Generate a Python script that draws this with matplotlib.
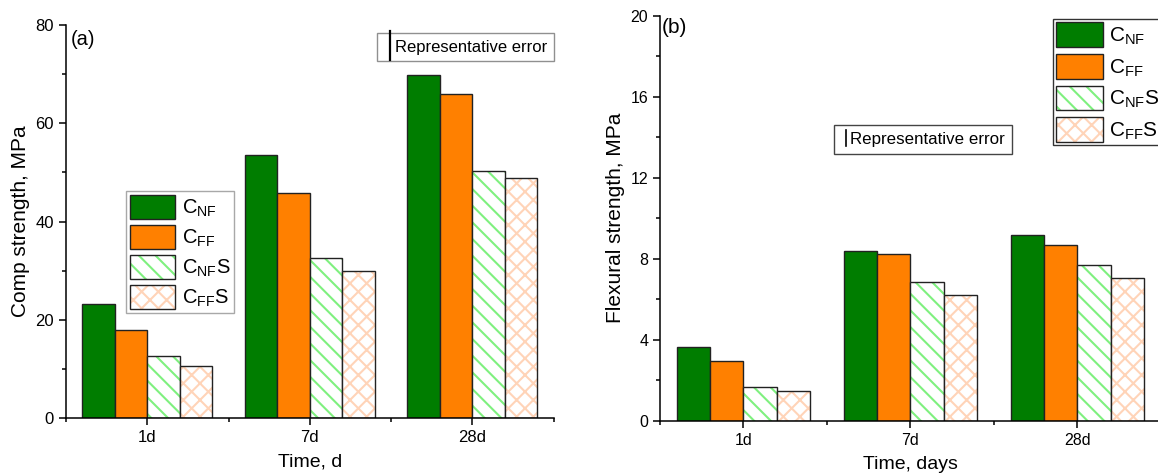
import numpy as np
import matplotlib
matplotlib.use('Agg')
import matplotlib.pyplot as plt
from matplotlib.ticker import AutoMinorLocator, FixedLocator
from matplotlib.legend_handler import HandlerBase, HandlerTuple
from matplotlib.lines import Line2D

plt.rcParams['font.family'] = ['Liberation Sans', 'DejaVu Sans']
plt.rcParams['mathtext.default'] = 'regular'
plt.rcParams['hatch.linewidth'] = 1.5

# data to plot
times = ['1d', '7d', '28d']
labels = ['C$_{NF}$', 'C$_{FF}$', 'C$_{NF}$S', 'C$_{FF}$S']

comp_CNF = [23.2, 53.6, 69.9]
comp_CFF = [18.0, 45.8, 65.9]
comp_CNFS = [12.7, 32.6, 50.2]
comp_CFFS = [10.6, 30.0, 48.8]

flex_CNF = [3.65, 8.40, 9.15]
flex_CFF = [2.96, 8.21, 8.69]
flex_CNFS = [1.66, 6.83, 7.67]
flex_CFFS = [1.48, 6.22, 7.03]

green = '#007d00'
orange = '#ff8000'
light_green = '#7ff07f'
peach = '#ffd4b8'
edge = '#222222'


class VBar(HandlerBase):
    # vertical line used as the "representative error" legend key
    def __init__(self, frac, lw):
        super().__init__()
        self.frac = frac
        self.lw = lw

    def create_artists(self, legend, orig_handle, xdescent, ydescent,
                       width, height, fontsize, trans):
        x = width - xdescent
        yc = height / 2 - ydescent
        h = self.frac * height / 2
        return [Line2D([x, x], [yc - h, yc + h], color='k', lw=self.lw,
                       transform=trans)]


def draw_panel(ax, series, ymax, ystep, ylabel, xlabel):
    index = np.arange(len(times))
    bar_width = 0.2
    handles = []
    for j, vals in enumerate(series):
        x = index + (j - 1.5) * bar_width
        if j == 0:
            b = ax.bar(x, vals, bar_width, color=green, edgecolor=edge, linewidth=1)
            handles.append(b[0])
        elif j == 1:
            b = ax.bar(x, vals, bar_width, color=orange, edgecolor=edge, linewidth=1)
            handles.append(b[0])
        else:
            hc = light_green if j == 2 else peach
            hp = '\\\\' if j == 2 else 'xx'
            b1 = ax.bar(x, vals, bar_width, color='white', edgecolor=hc,
                        hatch=hp, linewidth=0)
            b2 = ax.bar(x, vals, bar_width, fill=False, edgecolor=edge, linewidth=1)
            handles.append((b1[0], b2[0]))

    ax.set_xlim(-0.5, 2.5)
    ax.set_ylim(0, ymax)
    ax.set_xticks(index)
    ax.set_xticklabels(times)
    ax.xaxis.set_minor_locator(FixedLocator([-0.5, 0.5, 1.5, 2.5]))
    ax.set_yticks(np.arange(0, ymax + 0.01, ystep))
    ax.yaxis.set_minor_locator(AutoMinorLocator(2))
    ax.spines['top'].set_visible(False)
    ax.spines['right'].set_visible(False)
    ax.spines['left'].set_linewidth(1.1)
    ax.spines['bottom'].set_linewidth(1.1)
    ax.tick_params(which='major', direction='out', length=5, width=1.1,
                   labelsize=12)
    ax.tick_params(which='minor', direction='out', length=3, width=1.1)
    ax.set_ylabel(ylabel, fontsize=15)
    ax.set_xlabel(xlabel, fontsize=14, labelpad=6)
    return handles


fig = plt.figure(figsize=(11.58, 4.74), dpi=100)
ax1 = fig.add_axes([0.0569, 0.1175, 0.4213, 0.8298])
ax2 = fig.add_axes([0.5699, 0.1124, 0.4327, 0.8545])

h1 = draw_panel(ax1, [comp_CNF, comp_CFF, comp_CNFS, comp_CFFS], 80, 20,
                'Comp strength, MPa', 'Time, d')
h2 = draw_panel(ax2, [flex_CNF, flex_CFF, flex_CNFS, flex_CFFS], 20, 4,
                'Flexural strength, MPa', 'Time, days')
ax2.tick_params(which='major', labelsize=11.5)

ax1.text(0.0105, 0.962, '(a)', transform=ax1.transAxes, fontsize=14.5, va='center')
ax2.text(0.003, 0.97, '(b)', transform=ax2.transAxes, fontsize=15, va='center')

# series legends
leg1 = ax1.legend(h1, labels, loc='upper left', bbox_to_anchor=(0.124, 0.578),
                  borderaxespad=0, fontsize=14.5, handlelength=2.24,
                  handleheight=1.45, labelspacing=0.31, handletextpad=0.35,
                  borderpad=0.18, fancybox=False, framealpha=1,
                  handler_map={tuple: HandlerTuple(ndivide=1)})
leg1.get_frame().set_edgecolor('#a8a8a8')
leg1.get_frame().set_linewidth(1.0)
ax1.add_artist(leg1)

leg2 = ax2.legend(h2, labels, loc='upper left', bbox_to_anchor=(0.785, 0.991),
                  borderaxespad=0, fontsize=15, handlelength=2.24,
                  handleheight=1.45, labelspacing=0.33, handletextpad=0.27,
                  borderpad=0.15, fancybox=False, framealpha=1,
                  handler_map={tuple: HandlerTuple(ndivide=1)})
leg2.get_frame().set_edgecolor('#333333')
leg2.get_frame().set_linewidth(1.0)
ax2.add_artist(leg2)

# representative error boxes
err = Line2D([], [])
le1 = ax1.legend([err], ['Representative error'], loc='upper right',
                 bbox_to_anchor=(1.0, 0.98), borderaxespad=0, fontsize=12,
                 handlelength=0.35, handletextpad=0.32, borderpad=0.4,
                 fancybox=False, framealpha=1,
                 handler_map={Line2D: VBar(2.5, 1.6)})
le1.get_frame().set_edgecolor('#909090')
le1.get_frame().set_linewidth(1.0)

le2 = ax2.legend([err], ['Representative error'], loc='upper left',
                 bbox_to_anchor=(0.347, 0.731), borderaxespad=0, fontsize=12.2,
                 handlelength=0.3, handletextpad=0.23, borderpad=0.42,
                 fancybox=False, framealpha=1,
                 handler_map={Line2D: VBar(1.37, 1.2)})
le2.get_frame().set_edgecolor('#444444')
le2.get_frame().set_linewidth(1.0)

plt.savefig('out.png', dpi=100)
